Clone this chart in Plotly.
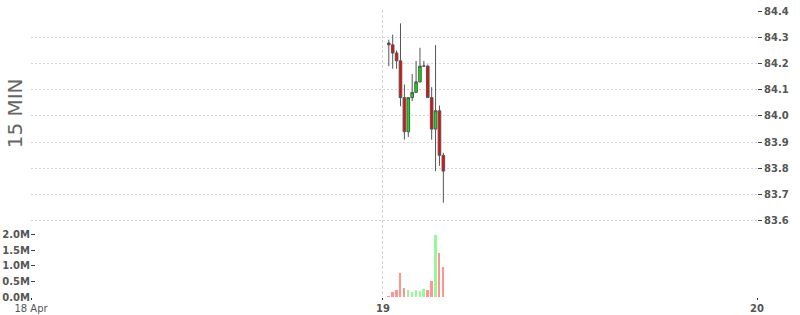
import pandas as pd
import plotly.graph_objects as go

# 15-minute candles, 19 Apr
times = pd.date_range("2024-04-19 00:15", periods=15, freq="15min")
open_ = [84.278, 84.271, 84.240, 84.210, 84.070, 83.940, 84.070, 84.090, 84.130, 84.190, 84.190, 84.070, 83.950, 84.020, 83.850]
high  = [84.291, 84.310, 84.250, 84.353, 84.120, 84.070, 84.160, 84.210, 84.260, 84.210, 84.196, 84.110, 84.270, 84.040, 83.860]
low   = [84.190, 84.180, 84.180, 84.037, 83.910, 83.920, 84.057, 84.087, 84.127, 84.190, 84.070, 83.910, 83.790, 83.810, 83.670]
close = [84.271, 84.240, 84.210, 84.070, 83.940, 84.070, 84.090, 84.130, 84.190, 84.190, 84.070, 83.950, 84.020, 83.850, 83.790]
volume = [0.04e6, 0.15e6, 0.21e6, 0.78e6, 0.30e6, 0.21e6, 0.15e6, 0.21e6, 0.18e6, 0.25e6, 0.21e6, 0.50e6, 1.98e6, 1.40e6, 0.95e6]

x_start = "2024-04-18 01:25"
x_end = "2024-04-20 00:00"
x_tickvals = [x_start, "2024-04-19", "2024-04-20"]
x_ticktext = ["18 Apr", "<b>19</b>", "<b>20</b>"]
price_ticks = [83.6, 83.7, 83.8, 83.9, 84.0, 84.1, 84.2, 84.3, 84.4]
vol_ticks = [0, 0.5e6, 1.0e6, 1.5e6, 2.0e6]
vol_ticktext = ["0.0M", "0.5M", "1.0M", "1.5M", "2.0M"]

PERIOD = 15 * 60 * 1000
vol_colors = ["#98f898" if c >= o else "#ff9494" for o, c in zip(open_, close)]

GRID = "#d4d4d4"
TXT = "#555555"
FONT = "DejaVu Sans"

fig = go.Figure()
fig.add_trace(go.Candlestick(
    x=times, open=open_, high=high, low=low, close=close,
    xperiod=PERIOD, xperiodalignment="middle",
    increasing=dict(fillcolor="#00ee00", line=dict(color="#555555", width=1)),
    decreasing=dict(fillcolor="#ff0000", line=dict(color="#555555", width=1)),
    whiskerwidth=0, yaxis="y", xaxis="x", showlegend=False, hoverinfo="x+y",
))
fig.add_trace(go.Bar(
    x=times, y=volume, xperiod=PERIOD, xperiodalignment="middle",
    width=PERIOD * 0.5, marker=dict(color=vol_colors, line=dict(width=0)),
    yaxis="y2", xaxis="x", showlegend=False,
))
# invisible helper trace to carry the zero gridline axis
fig.add_trace(go.Scatter(x=[times[0]], y=[0], yaxis="y3", mode="markers",
                         marker=dict(opacity=0), showlegend=False, hoverinfo="skip"))

fig.update_layout(
    width=800, height=315,
    margin=dict(l=31, r=43, t=10, b=18, autoexpand=False),
    paper_bgcolor="white", plot_bgcolor="white",
    font=dict(family=FONT, color=TXT),
    bargap=0, boxgap=0.05,
    xaxis=dict(
        range=[x_start, x_end], anchor="y2", automargin=False,
        tickvals=x_tickvals, ticktext=x_ticktext,
        showgrid=True, gridcolor=GRID, griddash="3px,2px", gridwidth=1,
        ticks="outside", ticklen=2, tickcolor="#333333",
        tickfont=dict(family=FONT, size=10, color=TXT),
        rangeslider=dict(visible=False), showline=False, zeroline=False,
    ),
    yaxis=dict(
        domain=[0.23, 1], side="right", anchor="x", automargin=False,
        range=[83.5619, 84.4038], tickvals=price_ticks,
        ticktext=[f"{v:.1f}" for v in price_ticks],
        showgrid=True, gridcolor=GRID, griddash="2px,2px", gridwidth=1,
        ticks="outside", ticklen=4, tickcolor="#444444",
        tickfont=dict(family=FONT, size=10, color=TXT, weight="bold"),
        zeroline=False, showline=False,
    ),
    yaxis2=dict(
        domain=[0, 0.23], side="left", anchor="x", automargin=False,
        range=[0, 2.115e6], tickvals=vol_ticks, ticktext=vol_ticktext,
        showgrid=False, ticks="inside", ticklen=4, tickcolor="#444444",
        tickfont=dict(family=FONT, size=10, color=TXT, weight="bold"),
        zeroline=False, showline=False,
    ),
    yaxis3=dict(
        overlaying="y2", side="left", anchor="x", automargin=False,
        range=[0, 2.115e6], tickvals=[0], showticklabels=False,
        showgrid=True, gridcolor=GRID, griddash="2px,2px", gridwidth=1,
        ticks="", zeroline=False, showline=False,
    ),
    annotations=[dict(
        text="15 MIN", textangle=-90, xref="paper", yref="paper",
        x=-0.022, y=0.64, xanchor="center", yanchor="middle", showarrow=False,
        font=dict(family=FONT, size=20, color="#666666"),
    )],
)

fig.write_html("out.html")
